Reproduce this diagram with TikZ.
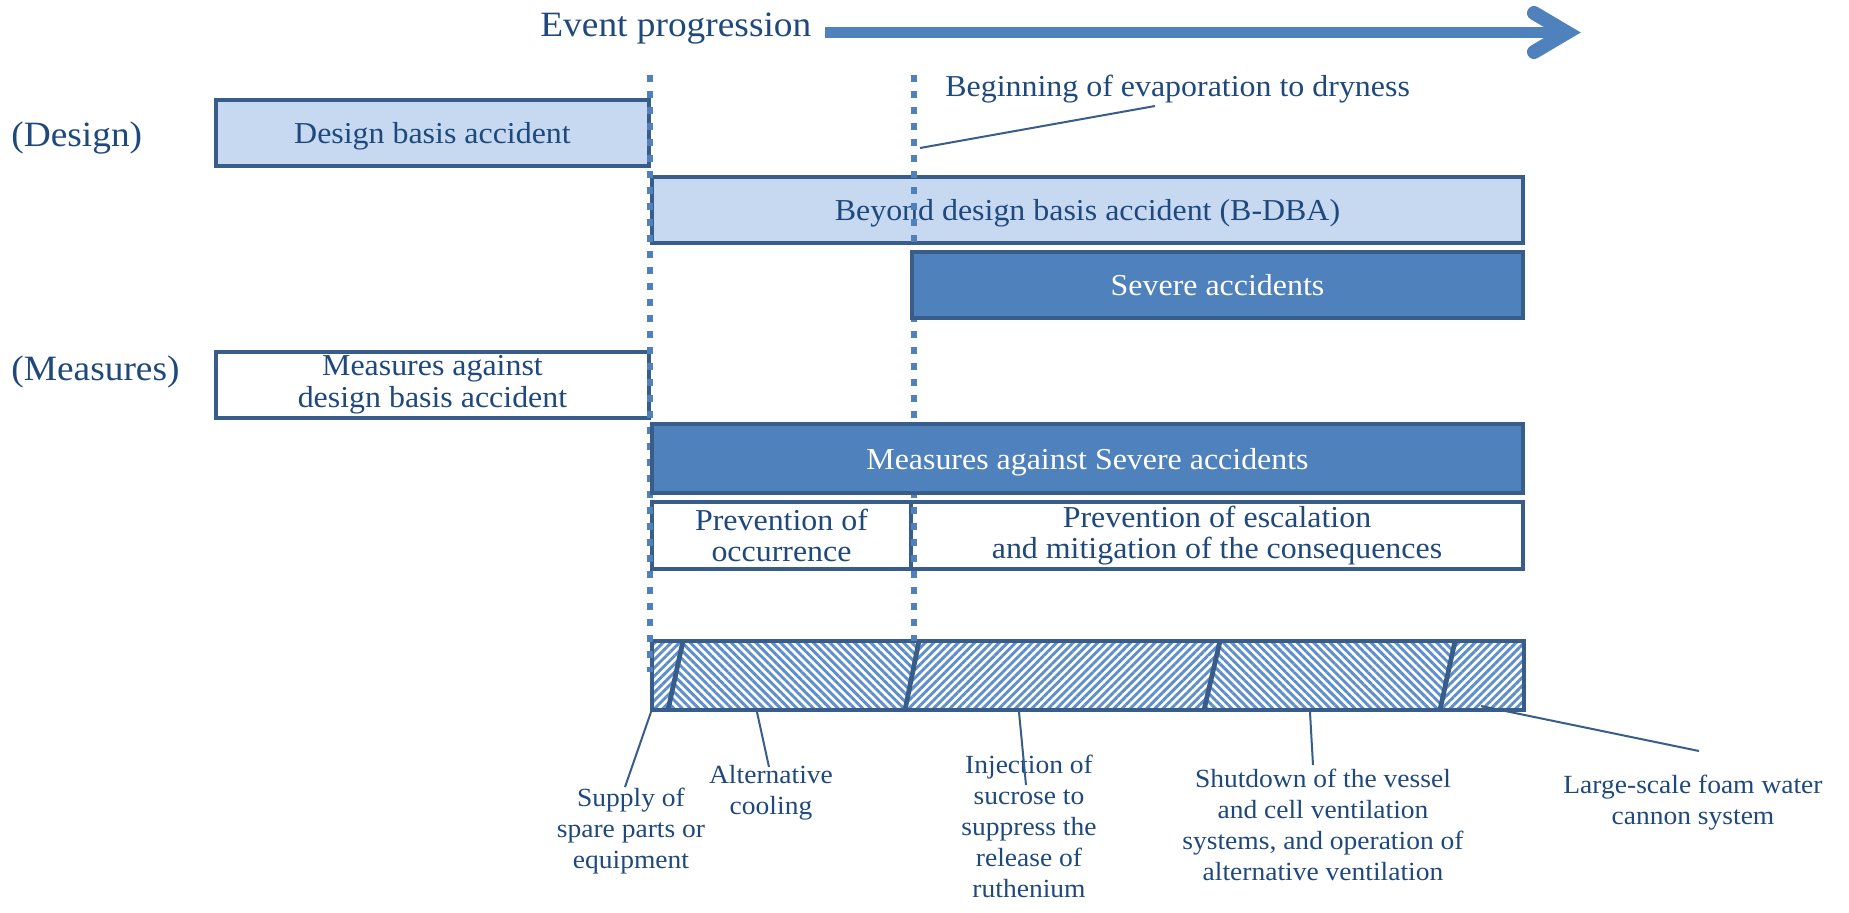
\documentclass[tikz,border=0pt]{standalone}
\usepackage{fontspec}
\setmainfont{Liberation Serif}[FakeStretch=1.05]
\usetikzlibrary{patterns.meta}
\definecolor{bord}{HTML}{385D8A}
\definecolor{acc}{HTML}{4F81BD}
\definecolor{lfill}{HTML}{C6D9F0}
\definecolor{txt}{HTML}{1F497D}
\definecolor{hatchc}{HTML}{5F8FCB}
\begin{document}
\begin{tikzpicture}[x=0.5pt,y=-0.5pt,
  box/.style={draw=bord,line width=2.4pt,inner sep=0pt,align=center,text=txt,
    font=\fontsize{15.2}{15.85}\selectfont},
  single/.style={text depth=0pt},
  lightbox/.style={box,fill=lfill},
  darkbox/.style={box,fill=acc,text=white},
  plainbox/.style={box,fill=white},
  biglabel/.style={text=txt,font=\fontsize{17.8}{19}\selectfont,inner sep=0pt,anchor=base west},
  lbl/.style={text=txt,font=\fontsize{13.1}{15.5}\selectfont,align=center,inner sep=0pt,anchor=north},
  callout/.style={draw=bord,line width=1pt},
  milestone/.style={draw=acc,line width=3.4pt,dash pattern=on 3.4pt off 4.6pt},
  divider/.style={draw=bord,line width=2.4pt},
  hatchup/.style={pattern={Lines[angle=45,distance=2.9pt,line width=1.45pt]},pattern color=hatchc},
  hatchdown/.style={pattern={Lines[angle=-45,distance=2.9pt,line width=1.45pt]},pattern color=hatchc},
]
\fill[white] (0,0) rectangle (1849,912);
\useasboundingbox (0,0) rectangle (1849,912);

% title and arrow
\node[biglabel] (title) at (540,36.7) {Event progression};
\coordinate (arS) at (825,32.5);
\coordinate (arE) at (1560,32.5);
\coordinate (chT) at (1534,13);
\coordinate (chV) at (1567,32.5);
\coordinate (chB) at (1534,52);
\draw[acc,line width=5.8pt] (arS) -- (arE);
\draw[acc,line width=7pt,line cap=round,line join=miter] (chT) -- (chV) -- (chB);

% row labels
\node[biglabel] (design) at (11,146.7) {(Design)};
\node[biglabel] (measures) at (11,380) {(Measures)};

% light and plain boxes
\node[lightbox,single,minimum width=216.5pt,minimum height=33pt] (dba) at (432.5,133) {Design basis accident};
\node[lightbox,single,minimum width=435.5pt,minimum height=33pt] (bdba) at (1087.5,210) {Beyond design basis accident (B-DBA)};
\node[plainbox,minimum width=216.5pt,minimum height=33pt] (mdba) at (432.5,385) {Measures against\\design basis accident};
\node[plainbox,minimum width=129.5pt,minimum height=33.5pt] (poc) at (781.5,535.5) {Prevention of\\occurrence};
\node[plainbox,minimum width=306pt,minimum height=33.5pt] (pesc) at (1217,535.5) {Prevention of escalation\\and mitigation of the consequences};

% hatched bar
\coordinate (B0t) at (652,641); \coordinate (B0b) at (652,710);
\coordinate (D1t) at (683,641); \coordinate (D1b) at (668,710);
\coordinate (D2t) at (919,641); \coordinate (D2b) at (905,710);
\coordinate (D3t) at (1220,641); \coordinate (D3b) at (1204,710);
\coordinate (D4t) at (1455,641); \coordinate (D4b) at (1440,710);
\coordinate (B5t) at (1524,641); \coordinate (B5b) at (1524,710);
\fill[hatchup] (B0t) -- (D1t) -- (D1b) -- (B0b) -- cycle;
\fill[hatchdown] (D1t) -- (D2t) -- (D2b) -- (D1b) -- cycle;
\fill[hatchup] (D2t) -- (D3t) -- (D3b) -- (D2b) -- cycle;
\fill[hatchdown] (D3t) -- (D4t) -- (D4b) -- (D3b) -- cycle;
\fill[hatchup] (D4t) -- (B5t) -- (B5b) -- (D4b) -- cycle;
\draw[divider] (B0t) rectangle (B5b);
\draw[divider] (D1t) -- (D1b);
\draw[divider] (D2t) -- (D2b);
\draw[divider] (D3t) -- (D3b);
\draw[divider] (D4t) -- (D4b);

% milestone lines
\coordinate (m1top) at (650,75); \coordinate (m1bot) at (650,672);
\coordinate (m2top) at (914,75); \coordinate (m2bot) at (914,641);
\draw[milestone] (m1top) -- (m1bot);
\draw[milestone] (m2top) -- (m2bot);

% dark boxes
\node[darkbox,single,minimum width=305.5pt,minimum height=33pt] (sa) at (1217.5,285) {Severe accidents};
\node[darkbox,single,minimum width=435.5pt,minimum height=34.5pt] (msa) at (1087.5,458.5) {Measures against Severe accidents};

% beginning of evaporation callout
\node[biglabel,font=\fontsize{15.2}{15.85}\selectfont] (evap) at (945,96.7) {Beginning of evaporation to dryness};
\coordinate (evA) at (920,148);
\coordinate (evB) at (1155,106);
\draw[callout] (evA) -- (evB);

% bottom labels
\node[lbl] (sup) at (631,788) {Supply of\\spare parts or\\equipment};
\node[lbl] (alt) at (771,765) {Alternative\\cooling};
\node[lbl] (inj) at (1029,754.6) {Injection of\\sucrose to\\suppress the\\release of\\ruthenium};
\node[lbl] (shut) at (1323,769) {Shutdown of the vessel\\and cell ventilation\\systems, and operation of\\alternative ventilation};
\node[lbl] (foam) at (1693,775) {Large-scale foam water\\cannon system};

% bottom callouts
\coordinate (c1a) at (651,712); \coordinate (c1b) at (625,787);
\coordinate (c2a) at (757,712); \coordinate (c2b) at (769,767);
\coordinate (c3a) at (1019,712); \coordinate (c3b) at (1026,785);
\coordinate (c4a) at (1310,712); \coordinate (c4b) at (1313,765);
\coordinate (c5a) at (1481,706); \coordinate (c5b) at (1699,751);
\draw[callout] (c1a) -- (c1b);
\draw[callout] (c2a) -- (c2b);
\draw[callout] (c3a) -- (c3b);
\draw[callout] (c4a) -- (c4b);
\draw[callout] (c5a) -- (c5b);
\end{tikzpicture}
\end{document}
